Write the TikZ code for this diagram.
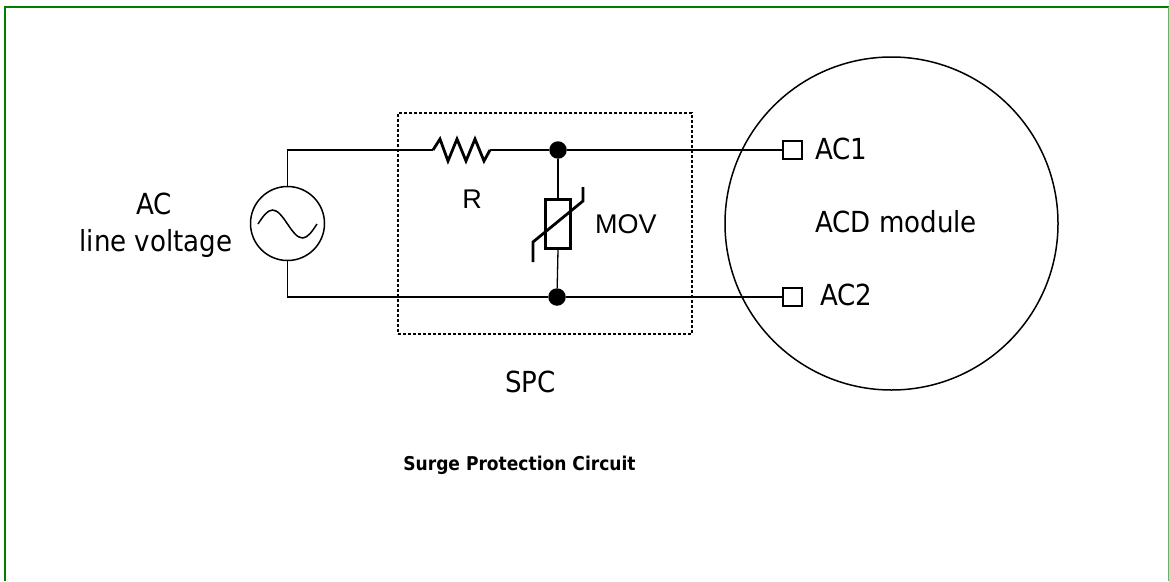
\documentclass[tikz,border=0pt]{standalone}
\usepackage{fontspec}
\setmainfont{DejaVu Sans Condensed}
\newfontfamily\helv{Liberation Sans}
\begin{document}
\begin{tikzpicture}[x=1pt,y=-1pt,
  wire/.style={line width=1.8pt},
  lbl/.style={inner sep=0pt,font=\fontsize{29}{34}\selectfont},
  hlbl/.style={inner sep=0pt,font=\helv\fontsize{27}{32}\selectfont},
  junction/.style={circle,fill=black,inner sep=0pt,minimum size=17.5pt},
  pin/.style={draw,line width=1.3pt,inner sep=0pt,minimum width=19pt,minimum height=18pt}]
\useasboundingbox (0,0) rectangle (1169,581);
% frame
\draw[line width=2pt,color={rgb,255:red,0;green,128;blue,0}] (5,581) -- (5,7) -- (1169,7);
\draw[line width=1.2pt,color={rgb,255:red,100;green,180;blue,100}] (1168.4,7) -- (1168.4,581);
% AC source
\node[draw,circle,line width=1.5pt,minimum size=74pt,inner sep=0pt] (src) at (287.5,223.5) {};
\draw[line width=1.5pt] (258,224) sin (272.5,210) cos (287.5,224) sin (302.5,238) cos (317,224);
% dashed SPC box
\node[draw,dash pattern=on 3pt off 2pt,line width=1.3pt,minimum width=294pt,minimum height=221pt,inner sep=0pt] (spc) at (545,223.5) {};
% resistor
\coordinate (rl) at (433,150);
\coordinate (rr) at (490,150);
\draw[line width=2.8pt,line join=miter] (rl) -- (440,139) -- (448,161) -- (457,139) -- (466,161) -- (475,139) -- (484,161) -- (rr);
% junctions
\node[junction] (j1) at (558,150) {};
\node[junction] (j2) at (557,297) {};
% pins
\node[pin] (ac1) at (792.5,150) {};
\node[pin] (ac2) at (792.5,297) {};
% wires
\draw[wire] (src.north) |- (rl);
\draw[wire] (rr) -- (j1) -- (ac1.west);
\draw[wire] (src.south) |- (j2) -- (ac2.west);
% MOV
\node[draw,line width=2.5pt,minimum width=25pt,minimum height=49pt,inner sep=0pt] (mov) at (558,224) {};
\draw[line width=1.3pt] (j1) -- (mov.north);
\draw[line width=1.3pt] (mov.south) -- (j2);
\draw[line width=2.8pt,line join=miter] (533,262) -- (533,242) -- (583,201) -- (583,187);
% module circle
\node[draw,circle,line width=1.5pt,minimum size=333pt,inner sep=0pt] (mod) at (891.5,223.5) {};
% labels
\node[lbl,anchor=base] (acl) at (154,214) {AC};
\node[lbl,anchor=base] (lvl) at (156,251) {line voltage};
\node[hlbl,anchor=base] (rlab) at (472,208) {R};
\node[hlbl,anchor=base west] (movl) at (595,233) {MOV};
\node[lbl,anchor=base west] (t1) at (815,159) {AC1};
\node[lbl,anchor=base west] (tm) at (815,232) {ACD module};
\node[lbl,anchor=base west] (t2) at (820,305) {AC2};
\node[lbl,anchor=base] (spcl) at (530.5,392) {SPC};
\node[inner sep=0pt,anchor=base,font=\bfseries\fontsize{19}{23}\selectfont] (cap) at (519.5,470) {Surge Protection Circuit};
\end{tikzpicture}
\end{document}
